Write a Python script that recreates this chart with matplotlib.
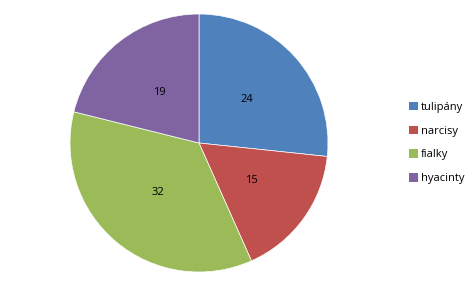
"""Pie chart of flower counts."""

import matplotlib.pyplot as plt
import numpy as np
from matplotlib.patches import Patch

plt.rcParams.update({
    "font.family": ["Open Sans", "DejaVu Sans"],
    "font.size": 8,
})

labels = ["tulipány", "narcisy", "fialky", "hyacinty"]
values = [24, 15, 32, 19]
colors = ["#4f81bd", "#c0504d", "#9bbb59", "#8064a2"]

W, H = 472, 287
fig = plt.figure(figsize=(W / 100, H / 100), dpi=100)

# pie centre ~ (199, 143) px, radius ~129 px
cx, cy, r = 199, 143, 129
ax = fig.add_axes([(cx - r) / W, (H - cy - r) / H, 2 * r / W, 2 * r / H])
ax.pie(
    values,
    colors=colors,
    startangle=90,
    counterclock=False,
    wedgeprops={"edgecolor": "white", "linewidth": 0.5},
)
ax.set_xlim(-1, 1)
ax.set_ylim(-1, 1)
ax.set_aspect("auto")
ax.axis("off")

# value labels inside slices
total = sum(values)
start = 90.0
for v in values:
    span = v / total * 360
    ang = np.deg2rad(start - span / 2)
    ax.text(0.5 * np.cos(ang), 0.5 * np.sin(ang), str(v),
            ha="center", va="center", fontsize=8, color="black")
    start -= span

handles = [Patch(facecolor=c, edgecolor="none") for c in colors]
fig.legend(
    handles, labels,
    loc="center left",
    bbox_to_anchor=(399 / W, 1 - 143 / H),
    frameon=False,
    handlelength=0.8,
    handleheight=0.8,
    handletextpad=0.25,
    labelspacing=1.15,
    fontsize=8,
)

fig.savefig("out.png", dpi=100, facecolor="white")
